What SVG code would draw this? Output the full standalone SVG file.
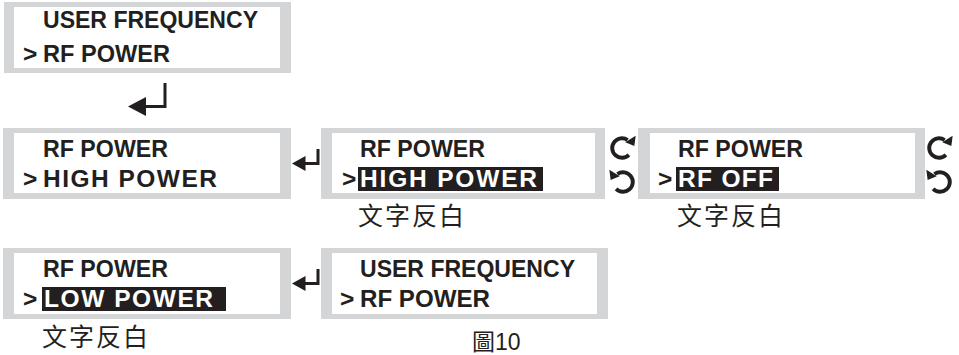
<svg xmlns="http://www.w3.org/2000/svg" width="959" height="355" viewBox="0 0 959 355">
<style>
.frame{fill:#d4d5d6}
.inner{fill:#ffffff}
.t{font-family:"Liberation Sans",Arial,sans-serif;font-weight:bold;font-size:24.5px;fill:#231f20}
.w{fill:#ffffff}
.hl{fill:#231f20}
.cjk{font-family:"Liberation Sans","Noto Sans CJK TC",sans-serif;font-size:25px;fill:#231f20;letter-spacing:2px}
.cap{font-family:"Liberation Sans","Noto Sans CJK TC",sans-serif;font-size:23px;fill:#231f20}
.ln{fill:none;stroke:#231f20;stroke-width:3}
.ah{fill:#231f20}
</style>
<defs>
<g id="enterBig">
<path class="ln" d="M165 83 V106.5 H144"/>
<polygon class="ah" points="128,106.5 146,97 146,116"/>
</g>
<g id="enter">
<path class="ln" d="M318 149 V163.5 H304"/>
<polygon class="ah" points="292,163.5 305.5,156 305.5,171"/>
</g>
<g id="cw">
<path class="ln" d="M5.3 5.3 A7.5 7.5 0 1 1 4.3 -6.1"/>
<polygon class="ah" points="9.5,-1.5 10.5,-9.5 2.5,-4.5"/>
</g>
<g id="ccw">
<path class="ln" d="M-5.3 5.3 A7.5 7.5 0 1 0 -4.3 -6.1"/>
<polygon class="ah" points="-9.5,-1.5 -10.5,-9.5 -2.5,-4.5"/>
</g>
</defs>

<g id="node-top">
<rect class="frame" x="4" y="2" width="287" height="71"/>
<rect class="inner" x="14" y="7" width="266" height="61"/>
<text class="t" x="43" y="28" textLength="215" lengthAdjust="spacingAndGlyphs">USER FREQUENCY</text>
<text class="t" x="23" y="62">&gt;</text>
<text class="t" x="43" y="62" textLength="127" lengthAdjust="spacingAndGlyphs">RF POWER</text>
</g>

<g id="node-high">
<rect class="frame" x="3" y="128" width="288" height="71"/>
<rect class="inner" x="14" y="133" width="266" height="60"/>
<text class="t" x="43" y="157" textLength="125" lengthAdjust="spacingAndGlyphs">RF POWER</text>
<text class="t" x="23" y="187">&gt;</text>
<text class="t" x="43" y="187" textLength="174" lengthAdjust="spacing">HIGH POWER</text>
</g>

<g id="node-high-inv">
<rect class="frame" x="321" y="128" width="284" height="71"/>
<rect class="inner" x="332" y="133" width="263" height="60"/>
<text class="t" x="360" y="157" textLength="125" lengthAdjust="spacingAndGlyphs">RF POWER</text>
<text class="t" x="342" y="187">&gt;</text>
<rect class="hl" x="358" y="167" width="185" height="24"/>
<text class="t w" x="360" y="187" textLength="177" lengthAdjust="spacing">HIGH POWER</text>
<text class="cjk" x="358" y="225">文字反白</text>
</g>

<g id="node-off">
<rect class="frame" x="638" y="128" width="287" height="71"/>
<rect class="inner" x="650" y="133" width="265" height="60"/>
<text class="t" x="678" y="157" textLength="125" lengthAdjust="spacingAndGlyphs">RF POWER</text>
<text class="t" x="658" y="187">&gt;</text>
<rect class="hl" x="676" y="167" width="103" height="24"/>
<text class="t w" x="678" y="187" textLength="95" lengthAdjust="spacing">RF OFF</text>
<text class="cjk" x="677" y="225">文字反白</text>
</g>

<g id="node-low">
<rect class="frame" x="3" y="248" width="288" height="71"/>
<rect class="inner" x="14" y="253" width="266" height="61"/>
<text class="t" x="43" y="277" textLength="125" lengthAdjust="spacingAndGlyphs">RF POWER</text>
<text class="t" x="23" y="307">&gt;</text>
<rect class="hl" x="42" y="287" width="184" height="24"/>
<text class="t w" x="44" y="307" textLength="169" lengthAdjust="spacing">LOW POWER</text>
<text class="cjk" x="42" y="346">文字反白</text>
</g>

<g id="node-back">
<rect class="frame" x="321" y="248" width="287" height="71"/>
<rect class="inner" x="332" y="253" width="265" height="61"/>
<text class="t" x="360" y="277" textLength="215" lengthAdjust="spacingAndGlyphs">USER FREQUENCY</text>
<text class="t" x="340" y="307">&gt;</text>
<text class="t" x="360" y="307" textLength="130" lengthAdjust="spacingAndGlyphs">RF POWER</text>
</g>

<g id="connectors">
<use href="#enterBig"/>
<use href="#enter"/>
<use href="#enter" transform="translate(0,120)"/>
<use href="#cw" transform="translate(622,148) scale(1.3)"/>
<use href="#ccw" transform="translate(623,182) scale(1.3)"/>
<use href="#cw" transform="translate(939,148) scale(1.3)"/>
<use href="#ccw" transform="translate(940,182) scale(1.3)"/>
</g>

<text class="cap" x="472" y="350">圖10</text>
</svg>
